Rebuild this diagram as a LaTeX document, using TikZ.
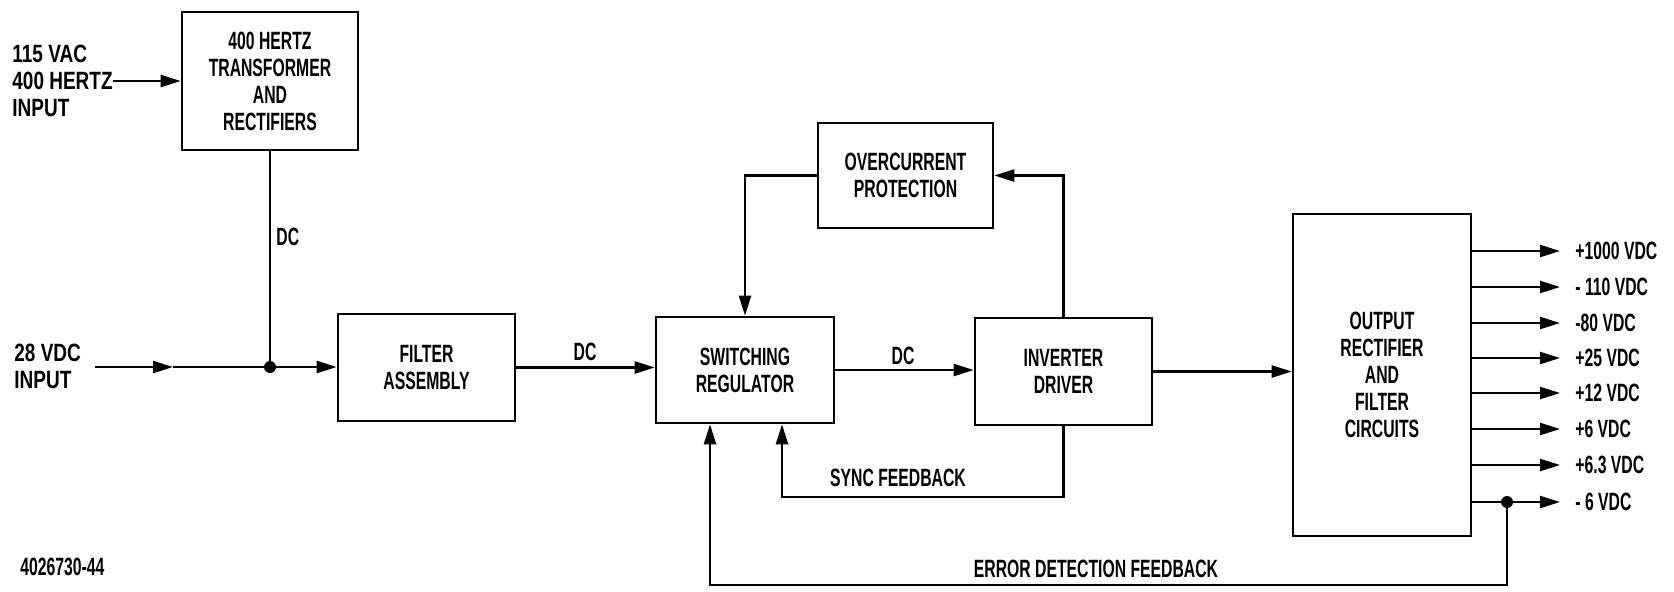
\documentclass[tikz,border=0pt]{standalone}
\usepackage{fontspec}
\setmainfont{Liberation Sans}[FakeStretch=0.63]
\newfontfamily\widefont{Liberation Sans}[FakeStretch=0.76]
\usetikzlibrary{arrows.meta}
\begin{document}
\begin{tikzpicture}[x=0.5pt,y=-0.5pt,
  every node/.style={font=\fontsize{12.5}{13.5}\selectfont\bfseries, inner sep=0pt},
  box/.style={draw, line width=1.3pt, align=center},
  sidelbl/.style={anchor=west, align=left, font=\widefont\fontsize{12.5}{13.5}\selectfont\bfseries},
  wire/.style={line width=1.2pt},
  arr/.style={wire,-{Triangle[length=10pt,width=6pt]}},
  dot/.style={circle, fill, minimum size=6pt, inner sep=0pt}]
\useasboundingbox (0,0) rectangle (1674,591);
% boxes
\node[box, minimum width=88pt, minimum height=69pt] (tr) at (270,81) {400 HERTZ\\TRANSFORMER\\AND\\RECTIFIERS};
\node[box, minimum width=88.5pt, minimum height=53.5pt] (filt) at (426.5,367.5) {FILTER\\ASSEMBLY};
\node[box, minimum width=89pt, minimum height=53pt] (sw) at (745,370) {SWITCHING\\REGULATOR};
\node[box, minimum width=88.5pt, minimum height=53.5pt] (inv) at (1063.5,371.5) {INVERTER\\DRIVER};
\node[box, minimum width=87.5pt, minimum height=52.5pt] (oc) at (905.5,175.5) {OVERCURRENT\\PROTECTION};
\node[box, minimum width=89pt, minimum height=161pt] (out) at (1382,375) {OUTPUT\\RECTIFIER\\AND\\FILTER\\CIRCUITS};
% inputs
\node[sidelbl] (acin) at (12,81) {115 VAC\\400 HERTZ\\INPUT};
\draw[arr] (acin.east) -- (acin.east -| tr.west);
\node[sidelbl] (dcin) at (14,366) {28 VDC\\INPUT};
\coordinate (s28) at (95,367);
\coordinate (m28) at (173,367);
\node[dot] (j1) at (270,367) {};
\draw[arr] (s28) -- (m28);
\draw[wire] (m28) -- (j1);
\draw[arr] (j1) -- (j1 -| filt.west);
\draw[wire] (tr.south) -- (j1);
\node[anchor=west] (dc1) at (276,237) {DC};
% main chain
\draw[arr] (filt.east) -- (filt.east -| sw.west);
\node (dc2) at (585,352) {DC};
\draw[arr] (sw.east) -- (sw.east -| inv.west);
\node (dc3) at (903,356) {DC};
\draw[arr] (oc.west) -| (sw.north);
\draw[arr] (inv.north) |- (oc.east);
\coordinate (sync) at (782,497);
\draw[arr] (inv.south) |- (sync) -- (sync |- sw.south);
\node (synclbl) at (898,478) {SYNC FEEDBACK};
\draw[arr] (inv.east) -- (inv.east -| out.west);
% outputs
\foreach \yy/\t [count=\i] in {251/+1000 VDC, 287/- 110 VDC, 323/-80 VDC, 358/+25 VDC, 393/+12 VDC, 429/+6 VDC, 465/+6.3 VDC, 502/- 6 VDC}{
  \node[anchor=west] (v\i) at (1575,\yy) {\t};
  \draw[arr, shorten >=7.5pt] (out.east |- v\i) -- (v\i.west);
}
% error feedback
\node[dot] (j2) at (1507,502) {};
\coordinate (e1) at (1507,585);
\coordinate (e2) at (710,585);
\draw[arr] (j2) -- (e1) -- (e2) -- (e2 |- sw.south);
\node (errlbl) at (1096,569) {ERROR DETECTION FEEDBACK};
\node[anchor=west, font=\fontsize{12.5}{13.5}\selectfont\bfseries] (fig) at (20,567) {4026730-44};
\end{tikzpicture}
\end{document}
